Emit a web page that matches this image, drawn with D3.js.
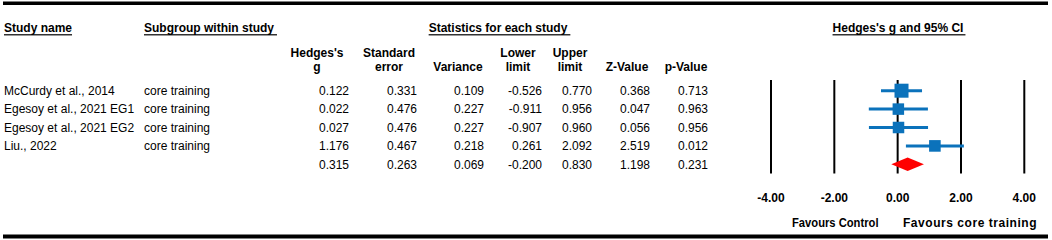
<!DOCTYPE html>
<html>
<head>
<meta charset="utf-8">
<script src="https://cdn.jsdelivr.net/npm/d3@7"></script>
<style>
  body { margin: 0; background: #fff; }
  text { font-family: Arial, 'Liberation Sans', sans-serif; font-size: 12px; fill: #000; }
  .bold { font-weight: bold; }
</style>
</head>
<body>
<div id="app"></div>
<script>
'use strict'

// Study rows
const studies = ['McCurdy et al., 2014', 'Egesoy et al., 2021 EG1', 'Egesoy et al., 2021 EG2', 'Liu., 2022', '']
const subgroups = ['core training', 'core training', 'core training', 'core training', '']
const hedgesG = [0.122, 0.022, 0.027, 1.176, 0.315]
const stdError = [0.331, 0.476, 0.476, 0.467, 0.263]
const variance = [0.109, 0.227, 0.227, 0.218, 0.069]
const lowerLimit = [-0.526, -0.911, -0.907, 0.261, -0.200]
const upperLimit = [0.770, 0.956, 0.960, 2.092, 0.830]
const zValue = [0.368, 0.047, 0.056, 2.519, 1.198]
const pValue = [0.713, 0.963, 0.956, 0.012, 0.231]
const isSummary = [false, false, false, false, true]

// Column headers for the statistics block
const statHeaders = [["Hedges's", 'g'], ['Standard', 'error'], ['', 'Variance'], ['Lower', 'limit'], ['Upper', 'limit'], ['', 'Z-Value'], ['', 'p-Value']]
const statColumns = [hedgesG, stdError, variance, lowerLimit, upperLimit, zValue, pValue]

const axisTicks = [-4, -2, 0, 2, 4]

const main = () => {
	const width = 1052
	const height = 240
	// plain hyphen for negatives, like the original table
	const locale = d3.formatLocale({ decimal: '.', thousands: ',', grouping: [3], currency: ['', ''], minus: '-' })
	const fmt = locale.format('.3f')
	const tickFmt = locale.format('.2f')

	const svg = d3.select('#app').append('svg')
		.attr('width', width)
		.attr('height', height)
		.style('display', 'block')

	// thick rules top and bottom
	svg.append('rect').attr('x', 3).attr('y', 1.5).attr('width', 1045).attr('height', 3.5).attr('fill', '#000')
	svg.append('rect').attr('x', 3).attr('y', 234.5).attr('width', 1045).attr('height', 4).attr('fill', '#000')

	// underlined section titles
	const titles = [
		{ text: 'Study name', x: 4, anchor: 'start', extra: 0 },
		{ text: 'Subgroup within study', x: 144, anchor: 'start', extra: 3 },
		{ text: 'Statistics for each study', x: 498, anchor: 'middle', extra: 3 },
		{ text: "Hedges's g and 95% CI", x: 898, anchor: 'middle', extra: 2 }
	]
	titles.forEach(t => {
		const el = svg.append('text')
			.attr('class', 'bold')
			.attr('x', t.x)
			.attr('y', 32)
			.attr('text-anchor', t.anchor)
			.text(t.text)
		const w = el.node().getComputedTextLength()
		const x0 = t.anchor === 'middle' ? t.x - w / 2 : t.x
		svg.append('rect')
			.attr('x', x0)
			.attr('y', 34.2)
			.attr('width', w + t.extra)
			.attr('height', 1.2)
			.attr('fill', '#000')
	})

	// rows
	const rowY = d3.scalePoint()
		.domain(d3.range(studies.length))
		.range([90.7, 164.3])

	// column positions: right edges of values and header centres
	const colRight = [349, 417, 484, 542, 592, 650, 708]
	const colCenter = [317, 389, 458, 518, 570, 627, 686]

	statHeaders.forEach((h, i) => {
		svg.append('text').attr('class', 'bold')
			.attr('x', colCenter[i]).attr('y', 57)
			.attr('text-anchor', 'middle').text(h[0])
		svg.append('text').attr('class', 'bold')
			.attr('x', colCenter[i]).attr('y', 70.5)
			.attr('text-anchor', 'middle').text(h[1])
	})

	const rows = svg.selectAll('.row')
		.data(d3.range(studies.length))
		.enter().append('g')
		.attr('class', 'row')
		.attr('transform', i => `translate(0, ${rowY(i) + 4.3})`)

	rows.append('text').attr('x', 4).text(i => studies[i])
	rows.append('text').attr('x', 144).text(i => subgroups[i])
	statColumns.forEach((col, c) => {
		rows.append('text')
			.attr('x', colRight[c])
			.attr('text-anchor', 'end')
			.text(i => fmt(col[i]))
	})

	/*
	 * Forest plot
	 */
	const xScale = d3.scaleLinear()
		.domain([-4, 4])
		.range([771, 1024.3])

	svg.selectAll('.grid')
		.data(axisTicks)
		.enter().append('line')
		.attr('class', 'grid')
		.attr('x1', d => xScale(d))
		.attr('x2', d => xScale(d))
		.attr('y1', 80)
		.attr('y2', 173.5)
		.attr('stroke', '#000')
		.attr('stroke-width', 2)

	svg.selectAll('.tick-label')
		.data(axisTicks)
		.enter().append('text')
		.attr('class', 'tick-label bold')
		.attr('x', d => xScale(d))
		.attr('y', 202)
		.attr('text-anchor', 'middle')
		.text(d => tickFmt(d))

	const studyIdx = d3.range(studies.length).filter(i => !isSummary[i])
	const weights = studyIdx.map(i => 1 / variance[i])
	const sizeScale = d3.scaleLinear()
		.domain(d3.extent(weights))
		.range([11.5, 14])

	const blue = '#0b72bb'

	svg.selectAll('.ci')
		.data(studyIdx)
		.enter().append('line')
		.attr('class', 'ci')
		.attr('x1', i => xScale(lowerLimit[i]))
		.attr('x2', i => xScale(upperLimit[i]))
		.attr('y1', i => rowY(i))
		.attr('y2', i => rowY(i))
		.attr('stroke', blue)
		.attr('stroke-width', 3)

	svg.selectAll('.box')
		.data(studyIdx)
		.enter().append('rect')
		.attr('class', 'box')
		.attr('x', i => xScale(hedgesG[i]) - sizeScale(1 / variance[i]) / 2)
		.attr('y', i => rowY(i) - sizeScale(1 / variance[i]) / 2)
		.attr('width', i => sizeScale(1 / variance[i]))
		.attr('height', i => sizeScale(1 / variance[i]))
		.attr('fill', blue)

	const summaryIdx = d3.range(studies.length).filter(i => isSummary[i])
	svg.selectAll('.diamond')
		.data(summaryIdx)
		.enter().append('path')
		.attr('class', 'diamond')
		.attr('d', i => {
			const y = rowY(i)
			const h = 6.8
			return `M${xScale(lowerLimit[i])},${y} L${xScale(hedgesG[i])},${y - h} L${xScale(upperLimit[i])},${y} L${xScale(hedgesG[i])},${y + h} Z`
		})
		.attr('fill', '#ff0000')

	// favours labels (stretched a little to the widths seen in the original)
	svg.append('text').attr('class', 'bold')
		.attr('x', 792).attr('y', 227)
		.attr('textLength', 86.5).attr('lengthAdjust', 'spacingAndGlyphs')
		.text('Favours Control')
	svg.append('text').attr('class', 'bold')
		.attr('x', 903).attr('y', 227)
		.attr('textLength', 133.5).attr('lengthAdjust', 'spacing')
		.text('Favours core training')
}

main()
</script>
</body>
</html>
